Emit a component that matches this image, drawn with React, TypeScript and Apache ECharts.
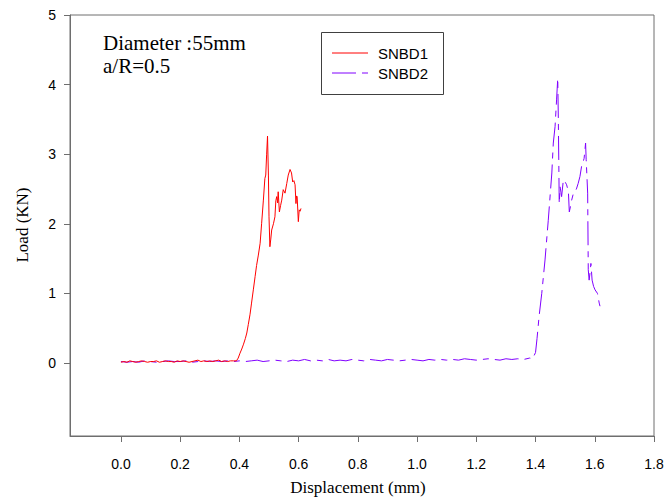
import React, { useEffect, useRef } from "react";
import * as echarts from "echarts";

const xTicks = [0, 0.2, 0.4, 0.6, 0.8, 1.0, 1.2, 1.4, 1.6, 1.8];
const yTicks = [0, 1, 2, 3, 4, 5];

const snbd1X = [
  0.0, 0.01, 0.02, 0.03, 0.04, 0.05, 0.06, 0.07, 0.08, 0.09,
  0.1, 0.11, 0.12, 0.13, 0.14, 0.15, 0.16, 0.17, 0.18, 0.19,
  0.2, 0.21, 0.22, 0.23, 0.24, 0.25, 0.26, 0.27, 0.28, 0.29,
  0.3, 0.31, 0.32, 0.33, 0.34, 0.35, 0.36, 0.37, 0.38, 0.39,
  0.396, 0.402, 0.408, 0.414, 0.42, 0.425, 0.43, 0.436, 0.441, 0.447,
  0.453, 0.458, 0.464, 0.47, 0.475, 0.481, 0.486, 0.489, 0.492, 0.495,
  0.498, 0.5, 0.503, 0.506, 0.509, 0.515, 0.52, 0.523, 0.526, 0.529,
  0.531, 0.535, 0.539, 0.543, 0.548, 0.554, 0.56, 0.565, 0.571, 0.576,
  0.58, 0.584, 0.588, 0.591, 0.593, 0.595, 0.599, 0.602, 0.605, 0.608,
];
const snbd1Y = [
  0.01, 0.02, 0.01, 0.03, 0.02, 0.01, 0.02, 0.03, 0.02, 0.01,
  0.02, 0.02, 0.03, 0.01, 0.02, 0.03, 0.02, 0.02, 0.01, 0.03,
  0.02, 0.03, 0.02, 0.01, 0.02, 0.03, 0.04, 0.02, 0.03, 0.02,
  0.03, 0.02, 0.03, 0.04, 0.02, 0.03, 0.02, 0.03, 0.03, 0.03,
  0.07, 0.14, 0.2, 0.27, 0.35, 0.43, 0.55, 0.7, 0.86, 1.05,
  1.24, 1.4, 1.55, 1.72, 2.0, 2.34, 2.65, 2.7, 3.0, 3.26,
  2.7, 2.1, 1.67, 1.78, 1.91, 2.0, 2.1, 2.33, 2.39, 2.3,
  2.46, 2.17, 2.26, 2.34, 2.49, 2.44, 2.58, 2.7, 2.78, 2.73,
  2.6, 2.62, 2.56, 2.29, 2.4, 2.39, 2.03, 2.2, 2.18, 2.22,
];

const snbd2X = [
  0.0, 0.02, 0.04, 0.06, 0.08, 0.1, 0.12, 0.14, 0.16, 0.18,
  0.2, 0.22, 0.24, 0.26, 0.28, 0.3, 0.32, 0.34, 0.36, 0.38,
  0.4, 0.42, 0.44, 0.46, 0.48, 0.5, 0.52, 0.54, 0.56, 0.58,
  0.6, 0.62, 0.64, 0.66, 0.68, 0.7, 0.72, 0.74, 0.76, 0.78,
  0.8, 0.82, 0.84, 0.86, 0.88, 0.9, 0.92, 0.94, 0.96, 0.98,
  1.0, 1.02, 1.04, 1.06, 1.08, 1.1, 1.12, 1.14, 1.16, 1.18,
  1.2, 1.22, 1.24, 1.26, 1.28, 1.3, 1.32, 1.34, 1.36, 1.38,
  1.39, 1.4, 1.405, 1.412, 1.421, 1.432, 1.443, 1.455, 1.46, 1.466,
  1.471, 1.475, 1.477, 1.48, 1.483, 1.488, 1.494, 1.5, 1.505, 1.511,
  1.514, 1.518, 1.522, 1.528, 1.533, 1.538, 1.544, 1.55, 1.556, 1.56,
  1.564, 1.569, 1.571, 1.576, 1.578, 1.581, 1.584, 1.587, 1.591, 1.596,
  1.601, 1.609, 1.612, 1.615, 1.618, 1.621,
];
const snbd2Y = [
  0.02, 0.01, 0.02, 0.01, 0.03, 0.02, 0.01, 0.02, 0.03, 0.02,
  0.02, 0.03, 0.01, 0.02, 0.03, 0.02, 0.03, 0.02, 0.03, 0.02,
  0.03, 0.02, 0.03, 0.04, 0.02, 0.03, 0.04, 0.03, 0.02, 0.04,
  0.03, 0.05, 0.03, 0.04, 0.03, 0.05, 0.03, 0.04, 0.03, 0.05,
  0.04, 0.03, 0.05, 0.04, 0.03, 0.05, 0.04, 0.03, 0.04, 0.05,
  0.04, 0.03, 0.05, 0.04, 0.05, 0.04, 0.05, 0.04, 0.06, 0.05,
  0.04, 0.05, 0.06, 0.05, 0.04, 0.06, 0.05, 0.06, 0.05, 0.07,
  0.06, 0.15, 0.35, 0.67, 1.0, 1.48, 2.05, 2.73, 3.16, 3.4,
  3.78, 4.09, 3.49, 2.29, 2.53, 2.39, 2.63, 2.6, 2.56, 2.46,
  2.17, 2.25, 2.34, 2.44, 2.46, 2.5, 2.58, 2.68, 2.84, 2.88,
  2.94, 3.16, 2.92, 2.44, 1.34, 1.19, 1.3, 1.43, 1.19, 1.1,
  1.05, 1.0, 0.93, 0.86, 0.81, 0.79,
];

const RED = "#ff0000";
const PURPLE = "#8000ff";
const AXIS = "#6e6e6e";
const SANS = "'Liberation Sans', Arial, sans-serif";
const SERIF = "'Liberation Serif', 'Times New Roman', serif";

export default function App() {
  const ref = useRef<HTMLDivElement>(null);
  useEffect(() => {
    document.body.style.margin = "0";
    if (!ref.current) return;
    const chart = echarts.init(ref.current, null, { renderer: "svg" });
    const d1 = snbd1X.map((x, i) => [x, snbd1Y[i]]);
    const d2 = snbd2X.map((x, i) => [x, snbd2Y[i]]);
    chart.setOption({
      animation: false,
      backgroundColor: "#ffffff",
      grid: {
        left: 70,
        right: 16,
        top: 15,
        bottom: 64,
        show: true,
        borderColor: AXIS,
        borderWidth: 1,
        backgroundColor: "transparent",
      },
      xAxis: {
        type: "value",
        min: -0.172,
        max: 1.8,
        splitLine: { show: false },
        axisLine: { show: true, onZero: false, lineStyle: { color: AXIS, width: 1 } },
        axisTick: {
          show: true,
          inside: false,
          length: 6,
          customValues: xTicks,
          lineStyle: { color: AXIS },
        },
        axisLabel: {
          show: true,
          customValues: xTicks,
          margin: 21,
          color: "#000",
          fontFamily: SANS,
          fontSize: 14,
          formatter: (v: number) => v.toFixed(1),
        },
      },
      yAxis: {
        type: "value",
        min: -1.05,
        max: 5,
        splitLine: { show: false },
        axisLine: { show: true, onZero: false, lineStyle: { color: AXIS, width: 1 } },
        axisTick: {
          show: true,
          inside: false,
          length: 6,
          customValues: yTicks,
          lineStyle: { color: AXIS },
        },
        axisLabel: {
          show: true,
          customValues: yTicks,
          margin: 14,
          color: "#000",
          fontFamily: SANS,
          fontSize: 14,
          formatter: (v: number) => String(v),
        },
      },
      series: [
        {
          name: "SNBD1",
          type: "line",
          data: d1,
          showSymbol: false,
          symbol: "none",
          lineStyle: { color: RED, width: 1 },
          z: 3,
        },
        {
          name: "SNBD2",
          type: "line",
          data: d2,
          showSymbol: false,
          symbol: "none",
          lineStyle: { color: PURPLE, width: 1, type: [24, 6, 6, 6] },
          z: 2,
        },
      ],
      graphic: [
        {
          type: "text",
          left: 103,
          top: 32,
          style: {
            text: "Diameter :55mm",
            font: `21px ${SERIF}`,
            fill: "#000",
          },
        },
        {
          type: "text",
          left: 103,
          top: 55,
          style: {
            text: "a/R=0.5",
            font: `21px ${SERIF}`,
            fill: "#000",
          },
        },
        {
          type: "rect",
          shape: { x: 321.5, y: 32.5, width: 122, height: 62 },
          style: { fill: "#fff", stroke: "#404040", lineWidth: 1 },
          z: 10,
        },
        {
          type: "line",
          shape: { x1: 332, y1: 53, x2: 368, y2: 53 },
          style: { stroke: RED, lineWidth: 1 },
          z: 11,
        },
        {
          type: "line",
          shape: { x1: 332, y1: 73, x2: 368, y2: 73 },
          style: { stroke: PURPLE, lineWidth: 1, lineDash: [24, 6, 6, 6] },
          z: 11,
        },
        {
          type: "text",
          x: 378,
          y: 53,
          style: {
            text: "SNBD1",
            font: `15px ${SANS}`,
            fill: "#000",
            verticalAlign: "middle",
          },
          z: 11,
        },
        {
          type: "text",
          x: 378,
          y: 73,
          style: {
            text: "SNBD2",
            font: `15px ${SANS}`,
            fill: "#000",
            verticalAlign: "middle",
          },
          z: 11,
        },
        {
          type: "text",
          x: 358,
          y: 487,
          style: {
            text: "Displacement (mm)",
            font: `17px ${SERIF}`,
            fill: "#000",
            align: "center",
            verticalAlign: "middle",
          },
        },
        {
          type: "text",
          x: 22,
          y: 225,
          rotation: Math.PI / 2,
          style: {
            text: "Load (KN)",
            font: `17px ${SERIF}`,
            fill: "#000",
            align: "center",
            verticalAlign: "middle",
          },
        },
      ],
    });
    return () => chart.dispose();
  }, []);
  return <div ref={ref} style={{ width: 670, height: 500 }} />;
}
